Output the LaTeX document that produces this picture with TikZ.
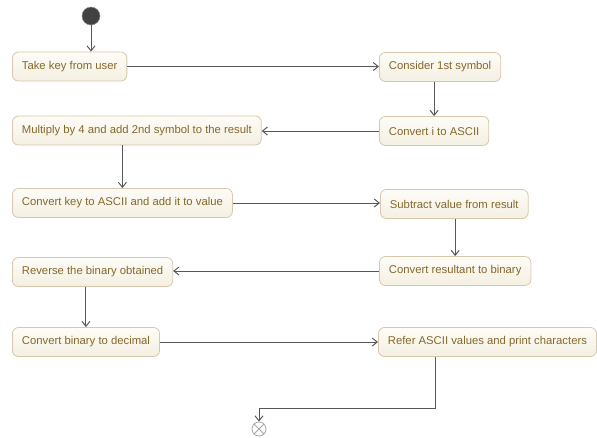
\documentclass[tikz,border=0pt]{standalone}
\usepackage{fontspec}
\setmainfont{Liberation Sans}
\usepackage{tikz}
\usetikzlibrary{arrows.meta,shapes,positioning,calc}
\usepackage{xcolor}
\definecolor{BoxTop}  {RGB}{253,252,247}
\definecolor{BoxBot}  {RGB}{244,239,225}
\definecolor{BoxLine} {RGB}{214,200,172}
\definecolor{BoxText} {RGB}{133,104,44}
\definecolor{FlowGray}{RGB}{88, 88, 88}
\definecolor{DotGray} {RGB}{66, 66, 66}

\tikzset{
  act/.style={draw=BoxLine,line width=0.8pt,top color=BoxTop,bottom color=BoxBot,
    rounded corners=6pt,anchor=west,minimum height=29pt,inner xsep=9.5pt,
    text=BoxText,font=\fontsize{11.3}{13}\selectfont},
  flow/.style={draw=FlowGray,line width=1pt,-{Straight Barb[length=5pt,width=8pt]}}
}

\begin{document}
\begin{tikzpicture}[x=1pt,y=-1pt]
        \useasboundingbox (0,0) rectangle (597,437);
        % start and end
        \node[circle,fill=DotGray,draw=FlowGray!70,minimum size=18pt,inner sep=0pt] (start) at (91,16) {};
        \node[circle,draw=gray!70,line width=0.8pt,minimum size=14pt,inner sep=0pt] (stop) at (259,429) {};
        \draw[gray!70,line width=0.8pt] (stop.north east)--(stop.south west)
          (stop.north west)--(stop.south east);
        % left column
        \node[act] (take)    at (12,66.5) {Take key from user};
        \node[act] (mult)    at (12,130.5) {Multiply by 4 and add 2nd symbol to the result};
        \node[act] (convkey) at (12,203) {Convert key to ASCII and add it to value};
        \node[act] (reverse) at (12,272) {Reverse the binary obtained};
        \node[act] (convbin) at (12,342) {Convert binary to decimal};
        % right column
        \node[act] (consider) at (379,67) {Consider 1st symbol};
        \node[act] (convi)    at (379,131) {Convert i to ASCII};
        \node[act] (subtract) at (380,204) {Subtract value from result};
        \node[act] (convres)  at (379,271) {Convert resultant to binary};
        \node[act] (refer)    at (378,342) {Refer ASCII values and print characters};
        \coordinate (turn) at (435,408);
        % flows
        \draw[flow] (start) -- (start |- take.north);
        \draw[flow] (take.east) -- (consider.west |- take.east);
        \draw[flow] (consider.south -| convi) -- (convi.north);
        \draw[flow] (convi.west) -- (mult.east |- convi.west);
        \draw[flow] (mult.south -| convkey) -- (convkey.north);
        \draw[flow] (convkey.east) -- (subtract.west |- convkey.east);
        \draw[flow] (subtract.south -| convres) -- (convres.north);
        \draw[flow] (convres.west) -- (reverse.east |- convres.west);
        \draw[flow] (reverse.south -| convbin) -- (convbin.north);
        \draw[flow] (convbin.east) -- (refer.west |- convbin.east);
        \draw[flow] (refer.south -| turn) -- (turn) -| (stop.north);
      \end{tikzpicture}
\end{document}
